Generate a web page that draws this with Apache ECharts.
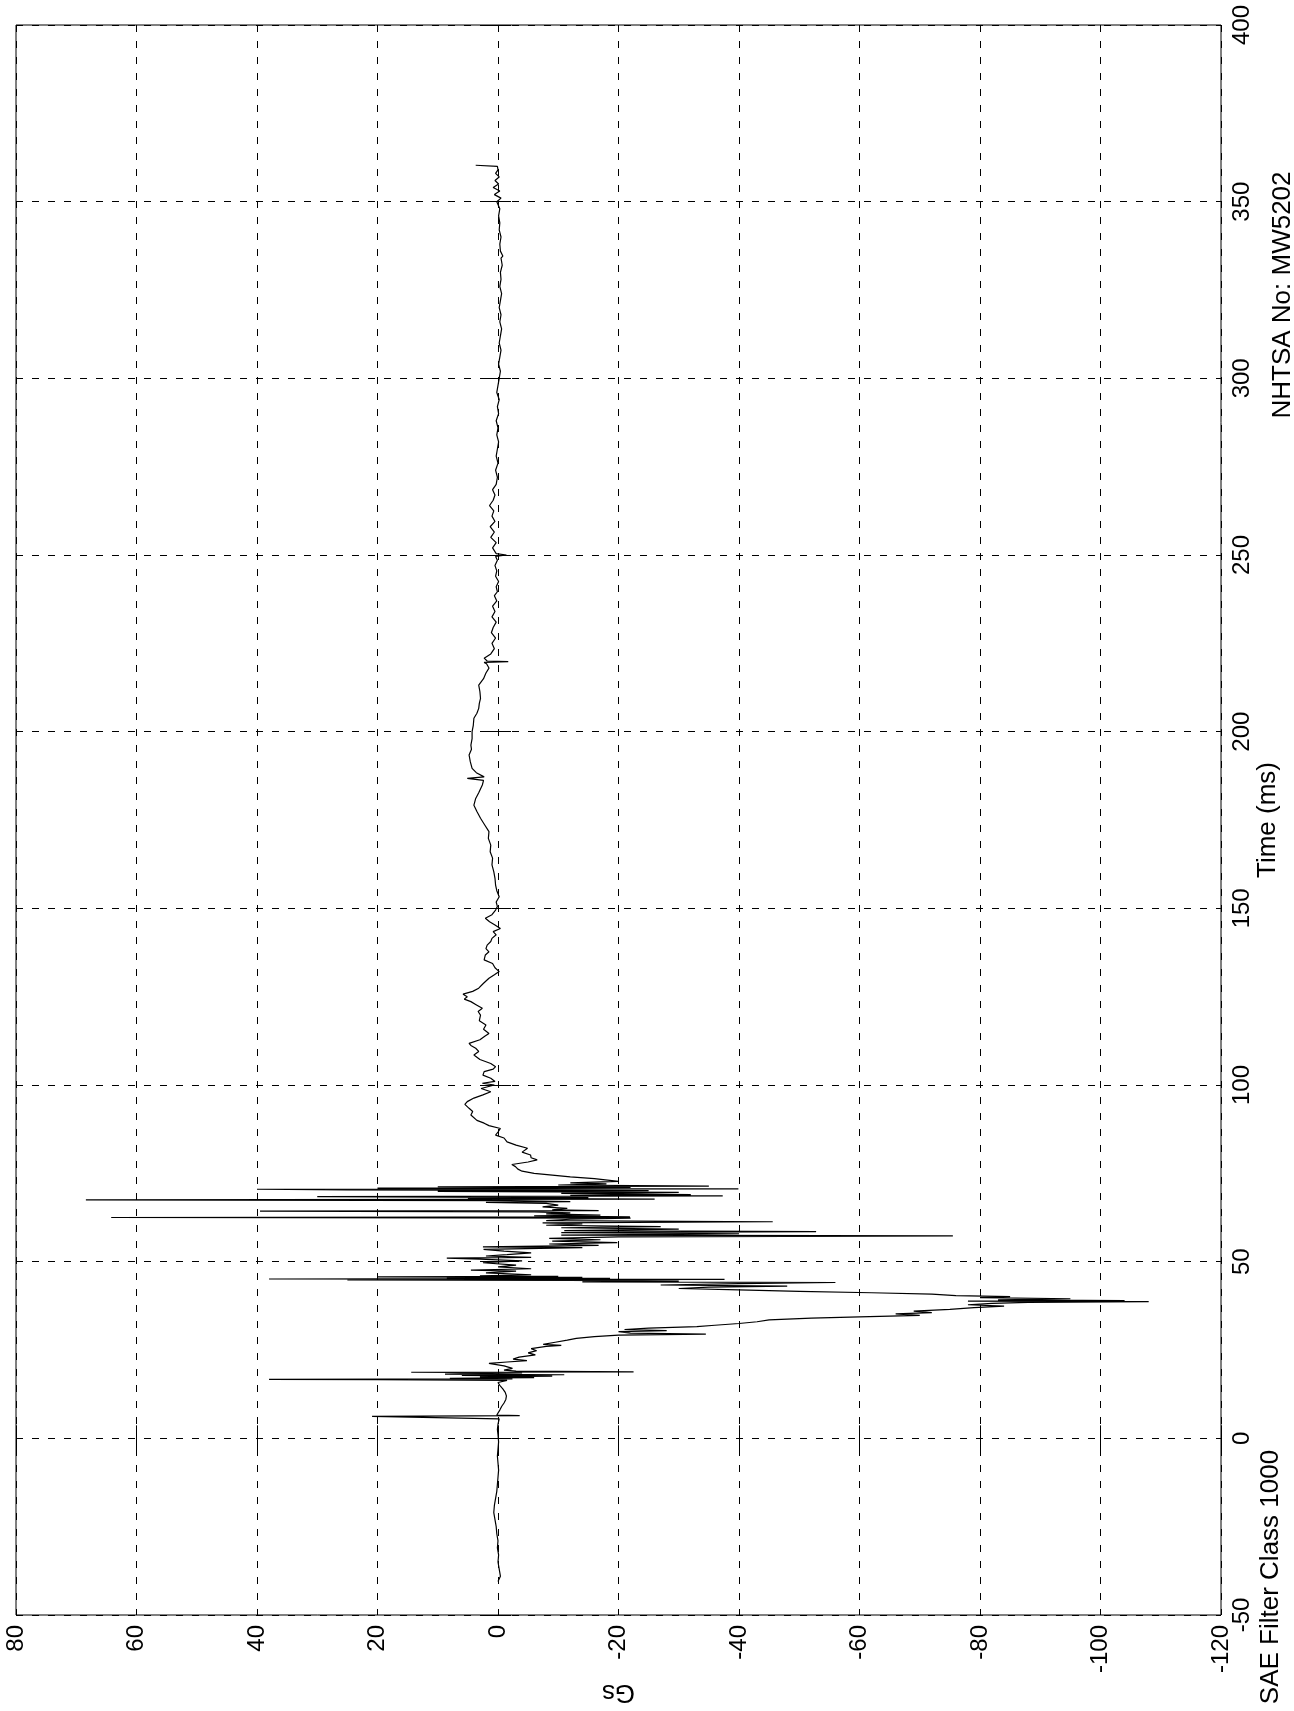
<!DOCTYPE html>
<html>
<head>
<meta charset="utf-8">
<title>Gs vs Time - NHTSA MW5202</title>
<script src="https://cdn.jsdelivr.net/npm/echarts@6/dist/echarts.min.js"></script>
<style>
  html, body { margin: 0; padding: 0; background: #fff; }
  #chart { width: 1294px; height: 1711px; }
</style>
</head>
<body>
<div id="chart"></div>
<script>
// axis ranges (chart is drawn turned on its side: time runs up, Gs runs right-to-left)
const gsRange = [-120, 80];
const timeRange = [-50, 400];

// trace, [time ms, Gs]
const preCrash = [
  [-40.5, 0], [-39, -0.4], [-37, -0.2], [-35, 0], [-33, -0.1], [-31, 0.1], [-29, 0], [-27, 0.2], [-25, 0.3], [-23, 0.5],
  [-21, 0.7], [-19, 0.6], [-17, 0.4], [-15, 0.2], [-13, 0.1], [-11, 0], [-9, -0.1], [-7, 0], [-5, 0.1], [-3, 0],
  [-1, -0.1], [1, 0], [2.5, 0.1], [4, 0], [5.5, -0.2], [6, -0.5], [6.2, 20.9], [6.4, -3.6], [6.6, 0.2], [7, -0.1],
  [8, -0.3], [9, -0.6], [10, -1], [11, -1.3], [12, -1.4], [13, -1.2], [14, -0.8], [15, -0.3], [15.8, 0], [16.4, -1.5]
];

const impact = [
  [16.6, 20], [16.7, 38], [16.8, -2.4], [17, 8], [17.2, -6], [17.4, 3], [17.6, -9], [17.8, 6], [18, -11], [18.2, 8.8],
  [18.5, -4], [18.7, 14.4], [18.8, -22.5], [19, -3], [19.3, -1], [19.8, -2.4], [20.5, -1], [21.2, 1.5], [21.6, -1.5], [22, -4.8],
  [22.4, -2.5], [23, -3.5], [23.6, -6.2], [24.2, -5], [24.8, -6.4], [25.4, -5.5], [26, -8], [26.3, -10.5], [26.6, -7.5], [27.2, -9.5],
  [27.8, -11.5], [28.3, -13], [28.8, -16], [29.2, -20], [29.5, -34.5], [29.8, -22], [30.2, -20], [30.5, -28], [30.8, -21], [31.2, -25],
  [31.6, -33], [32, -36], [32.5, -40], [33, -43], [33.5, -45], [34, -52], [34.4, -60], [34.8, -70], [35.2, -66], [35.6, -72],
  [36, -69], [36.5, -75], [37, -79], [37.4, -84], [37.8, -78], [38.2, -82], [38.5, -88], [38.7, -108], [38.85, -78], [39, -104],
  [39.2, -83], [39.5, -95], [39.8, -80], [40.1, -85], [40.4, -76], [40.8, -72], [41.2, -62], [41.6, -50], [42, -40], [42.4, -30],
  [42.8, -35], [43.1, -48], [43.4, -27], [43.8, -40], [44.1, -56], [44.3, -14], [44.5, -30], [44.7, -12], [44.85, 25], [45, -37.6],
  [45.1, 38], [45.25, -18.6], [45.4, 8.5], [45.55, -14], [45.7, 20], [45.85, -10], [46, 3], [46.3, -5.5], [46.8, 2], [47.3, -3],
  [47.6, 4.5], [48, -5.5], [48.5, 0], [49, -3], [49.7, 2.5], [50.2, -4], [50.7, 3], [51, 8.5], [51.2, -5.5], [51.6, 2],
  [52, -1.5], [52.5, -5.5], [53, -1], [53.5, 2.4], [54, -14], [54.2, 2.5], [54.6, -16.7], [55, -8.5], [55.4, -19.8], [55.8, -9],
  [56.2, -17], [56.6, -8.5], [57, -20], [57.3, -75.5], [57.5, -10.5], [57.9, -40], [58.2, -10.5], [58.5, -52.8], [58.8, -11], [59.2, -30],
  [59.6, -10.5], [59.9, -27], [60.3, -8], [60.7, -14], [61, -7.4], [61.3, -45.6], [61.6, -8], [62, -12], [62.3, -22], [62.5, 64.2],
  [62.7, -21.9], [63, -6], [63.2, -17], [63.5, -8], [63.8, -12], [64.1, -6], [64.3, 39.5], [64.45, -16.7], [64.7, -9], [65.1, -11.5],
  [65.5, -7.4], [66, -10], [66.5, -8], [66.8, 2], [67, -12], [67.3, -2], [67.5, 68.4], [67.7, -26], [67.9, 5], [68.1, -15],
  [68.4, 30], [68.6, -37.3], [68.8, -12], [69, -32], [69.3, -10.5], [69.6, -30], [69.9, 10], [70.1, -25], [70.3, 25], [70.5, 40],
  [70.6, -39.9], [70.8, 20], [71, -22], [71.2, 10], [71.4, -35], [71.7, -10], [72, -18], [72.3, -12], [72.7, -20], [73.1, -19.8]
];

const rebound = [
  [73.5, -16], [74, -12], [74.5, -9], [75, -6], [75.6, -4], [76.2, -3.3], [76.9, -2.9], [77.5, -2.3], [78.2, -5], [78.8, -6.5],
  [79.4, -5.5], [80.2, -5.4], [81, -4], [82.1, -4.9], [83, -3], [83.9, -1.5], [85, -1], [85.8, 0.4], [86.7, 0], [87.7, -0.4],
  [88.5, 1.5], [89.2, 2.3], [90, 3.5], [91.5, 4.5], [92.5, 4.2], [93.4, 4.8], [94.5, 5.5], [95.3, 5.1], [96.3, 4], [97.2, 2.5],
  [98.1, 1.2], [99, 2.8], [100, 0.6], [100.5, 2.6], [101, 0.5], [101.9, 1.2], [102.8, 2.5], [103.8, 2.3], [104.5, 0.8], [105.2, 0.4],
  [106.1, 1.2], [107.2, 3], [108.5, 4], [109.5, 3.2], [110.4, 3.7], [111.2, 4.5], [111.8, 4.8], [112.8, 3], [113.8, 2.2], [114.6, 1.5],
  [115.8, 2.4], [117, 2], [118.2, 3.1], [119.8, 2.9], [120.8, 3.3], [121.7, 2.6], [122.6, 3.5], [123.6, 4.5], [124.3, 5.6], [125, 5.1],
  [125.7, 5.8], [126.5, 4.2], [127.4, 3.2], [128.8, 2.4], [130.2, 1.5], [131.2, 0.6], [132.1, -0.2], [133.2, 0.5], [134.4, 0.9], [135.4, 2.3],
  [136.8, 2.1], [137.7, 1.5], [138.6, 2], [139.6, 1.8], [140.6, 1.2], [141.5, 1], [142.5, 0.3], [143.4, 0.8], [144.3, -0.4], [145.3, 0.5],
  [146.2, 1.4], [147.2, 2.1], [148.2, 1], [149.5, 0.4], [150.5, 0.1], [151.8, 0.3], [153.3, -0.2], [155, 0.2], [156.6, 0.4], [158.5, 0.5]
];

const settle = [
  [160.4, 0.7], [162.3, 1], [164.2, 0.9], [166, 1.3], [167.9, 1.2], [169.8, 1.6], [171.7, 1.5], [173.6, 2.2], [175.5, 2.9], [177.4, 3.5],
  [179.2, 4], [181.1, 3.7], [182.7, 3.2], [184.9, 2.6], [186.2, 2.4], [186.8, 5.1], [187.2, 2.3], [188.4, 3.6], [189.6, 4.3], [191.5, 4.6],
  [193.4, 4.8], [195, 4.4], [196.2, 4.5], [198, 4.3], [200, 4.3], [201.8, 4.1], [203.8, 4], [205.2, 3.5], [206.6, 3.2], [208, 3.1],
  [209.4, 2.9], [211.3, 3], [213.2, 3.2], [215, 2.4], [216.6, 2], [218, 1.5], [219.2, 1.9], [219.6, 2.3], [219.8, -1.7], [220, 1.8],
  [220.8, 2.3], [222, 1.2], [223.5, 0.6], [225, 1], [226.5, 0.4], [228, 1.1], [229.5, 0.8], [231, 0.3], [232.5, 1], [234, 0.5],
  [235.5, 0.9], [237, 0.2], [238.5, 0.6], [239.6, 0.1], [241, 0.3], [242.5, -0.1], [244, 0.4], [245.5, 0.2], [247, 0.5], [248.5, 0.1],
  [249.6, 0.4], [250, -1.4], [250.4, 0.3], [252, 0.9], [253.5, 0.3], [255, 1.2], [256.5, 0.6], [258, 1.3], [259.5, 0.5], [261, 1],
  [262.5, 0.7], [264, 1.4], [265.5, 0.8], [267, 0.5], [268.5, 0.9], [270, 0.3], [272, 0.1], [274, 0.4], [276, 0], [278, 0.3],
  [280, 0.1], [282, -0.1], [284, 0.2], [286, 0], [288, 0.3], [290, -0.1], [292, 0.1], [294, -0.2], [296, 0.2], [298, 0],
  [300, -0.2], [302, -0.4], [304, -0.1], [306, -0.3], [308, -0.5], [310, -0.2], [312, -0.4], [314, -0.6], [316, -0.3], [318, -0.5],
  [320, -0.2], [322, -0.4], [324, -0.6], [326, -0.3], [328, -0.5], [330, -0.4], [332, -0.7], [334, -0.5], [334.6, -0.8], [336, -0.4],
  [338, -0.3], [340, -0.5], [342, -0.2], [344, -0.3], [346, -0.1], [348, -0.3], [350, 0.2], [351, -0.5], [352, 0.6], [353, -0.3],
  [354, 0.8], [355, -0.1], [356, 0.5], [357, -0.2], [358, 0.4], [359, 0], [360, 0.1], [360.3, 3.7]
];

const fontFamily = "'Liberation Sans', Arial, Helvetica, sans-serif";
const gridDash = { color: '#000', width: 1, type: [7, 9] };
const tickStyle = { show: true, inside: true, length: 13, lineStyle: { color: '#000' } };

const chart = echarts.init(document.getElementById('chart'));

// swap to [Gs, time] since Gs is on the horizontal axis here
const seriesData = preCrash.concat(impact, rebound, settle).map((p) => [p[1], p[0]]);

const option = {
  animation: false,
  backgroundColor: '#fff',
  textStyle: { fontFamily: fontFamily, color: '#000' },
  grid: {
    left: 16,
    right: 73,
    top: 25,
    bottom: 96,
    show: true,
    borderColor: '#000',
    borderWidth: 1,
    containLabel: false,
    outerBoundsMode: 'none'
  },
  xAxis: [
    {
      type: 'value',
      position: 'bottom',
      min: gsRange[0],
      max: gsRange[1],
      interval: 20,
      inverse: true,
      name: 'Gs',
      nameLocation: 'middle',
      nameGap: 64,
      nameRotate: 180,
      nameMoveOverlap: false,
      nameTextStyle: { fontFamily: fontFamily, fontSize: 26, color: '#000' },
      axisLine: { show: false },
      axisTick: tickStyle,
      axisLabel: {
        rotate: 90,
        margin: 10,
        fontFamily: fontFamily,
        fontSize: 24,
        color: '#000',
        showMinLabel: true,
        showMaxLabel: true
      },
      splitLine: { show: true, lineStyle: gridDash }
    },
    {
      type: 'value',
      position: 'top',
      min: gsRange[0],
      max: gsRange[1],
      interval: 20,
      inverse: true,
      axisLine: { show: false },
      axisTick: tickStyle,
      axisLabel: { show: false },
      splitLine: { show: false }
    }
  ],
  yAxis: [
    {
      type: 'value',
      position: 'right',
      min: timeRange[0],
      max: timeRange[1],
      interval: 50,
      name: 'Time (ms)',
      nameLocation: 'middle',
      nameGap: 34,
      nameRotate: 90,
      nameMoveOverlap: false,
      nameTextStyle: { fontFamily: fontFamily, fontSize: 26, color: '#000' },
      axisLine: { show: false },
      axisTick: tickStyle,
      axisLabel: {
        rotate: 90,
        margin: 9,
        fontFamily: fontFamily,
        fontSize: 24,
        color: '#000',
        showMinLabel: true,
        showMaxLabel: true
      },
      splitLine: { show: true, lineStyle: gridDash }
    },
    {
      type: 'value',
      position: 'left',
      min: timeRange[0],
      max: timeRange[1],
      interval: 50,
      axisLine: { show: false },
      axisTick: tickStyle,
      axisLabel: { show: false },
      splitLine: { show: false }
    }
  ],
  graphic: [
    {
      type: 'text',
      x: 1271,
      y: 1577,
      rotation: Math.PI / 2,
      style: {
        text: 'SAE Filter Class 1000',
        fontFamily: fontFamily,
        fontSize: 26,
        fill: '#000',
        align: 'center',
        verticalAlign: 'middle'
      }
    },
    {
      type: 'text',
      x: 1283,
      y: 295,
      rotation: Math.PI / 2,
      style: {
        text: 'NHTSA No: MW5202',
        fontFamily: fontFamily,
        fontSize: 26,
        fill: '#000',
        align: 'center',
        verticalAlign: 'middle'
      }
    }
  ],
  series: [
    {
      type: 'line',
      xAxisIndex: 0,
      yAxisIndex: 0,
      data: seriesData,
      showSymbol: false,
      symbol: 'none',
      silent: true,
      clip: true,
      lineStyle: { color: '#000', width: 1.2 }
    }
  ]
};

chart.setOption(option);
</script>
</body>
</html>
